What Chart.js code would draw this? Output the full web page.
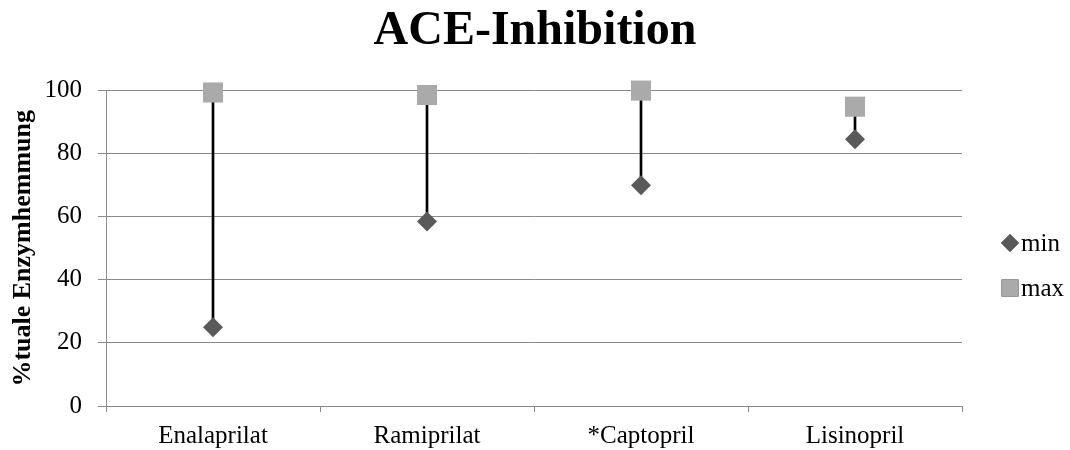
<!DOCTYPE html>
<html>
<head>
<meta charset="utf-8">
<script src="https://cdn.jsdelivr.net/npm/chart.js@4/dist/chart.umd.min.js"></script>
<style>
  html, body { margin: 0; padding: 0; background: #ffffff; }
  #wrap { width: 1070px; height: 450px; }
</style>
</head>
<body>
<div id="wrap"><canvas id="c" width="1070" height="450"></canvas></div>
<script>
// Inhibitors and their range of enzyme inhibition (%)
const categories = ['Enalaprilat', 'Ramiprilat', '*Captopril', 'Lisinopril'];
const minValues = [25, 58.5, 70, 84.6];
const maxValues = [99.4, 98.6, 100, 94.9];
const yTicks = [0, 20, 40, 60, 80, 100];

const SERIF = "'Liberation Serif', 'Times New Roman', serif";
const GRID = '#8a8a8a';
const MIN_COLOR = '#5a5a5a';
const MAX_COLOR = '#aaaaaa';

// Legend drawn in the reserved strip to the right of the plot
const sideLegend = {
  id: 'sideLegend',
  afterDraw(chart) {
    const ctx = chart.ctx;
    const rows = chart.data.datasets.filter(d => d.type === 'line');
    ctx.save();
    rows.forEach((ds, i) => {
      const cy = 243 + i * 45;
      Chart.helpers.drawPoint(ctx, {
        pointStyle: ds.pointStyle,
        radius: ds.pointStyle === 'rect' ? 12 : 9,
        borderWidth: 0,
        rotation: 0
      }, 1010, cy);
      ctx.fillStyle = ds.backgroundColor;
      ctx.fill();
      ctx.fillStyle = '#000000';
      ctx.font = '25px ' + SERIF;
      ctx.textAlign = 'left';
      ctx.textBaseline = 'alphabetic';
      ctx.fillText(ds.label, 1021, cy + 8);
    });
    ctx.restore();
  }
};

new Chart(document.getElementById('c'), {
  type: 'bar',
  data: {
    labels: categories,
    datasets: [
      {
        type: 'bar',
        label: 'range',
        data: categories.map((_, i) => [minValues[i], maxValues[i]]),
        backgroundColor: '#000000',
        borderWidth: 0,
        barThickness: 2,
        order: 3
      },
      {
        type: 'line',
        label: 'min',
        data: minValues,
        showLine: false,
        pointStyle: 'rectRot',
        pointRadius: 10,
        pointHoverRadius: 10,
        pointBorderWidth: 0,
        backgroundColor: MIN_COLOR,
        borderColor: MIN_COLOR,
        clip: false,
        order: 1
      },
      {
        type: 'line',
        label: 'max',
        data: maxValues,
        showLine: false,
        pointStyle: 'rect',
        pointRadius: 14.2,
        pointHoverRadius: 14.2,
        pointBorderWidth: 0,
        backgroundColor: MAX_COLOR,
        borderColor: MAX_COLOR,
        clip: false,
        order: 2
      }
    ]
  },
  options: {
    responsive: false,
    animation: false,
    layout: { padding: { left: 0, right: 0, top: 0, bottom: 0 } },
    plugins: {
      legend: { display: false },
      tooltip: { enabled: false },
      title: {
        display: true,
        text: 'ACE-Inhibition',
        color: '#000000',
        font: { family: SERIF, size: 48, weight: 'bold' },
        padding: { top: 3, bottom: 30 }
      }
    },
    scales: {
      x: {
        offset: true,
        grid: {
          offset: true,
          drawOnChartArea: false,
          drawTicks: true,
          tickLength: 6,
          color: GRID
        },
        border: { color: GRID, width: 1 },
        ticks: {
          color: '#000000',
          font: { family: SERIF, size: 25 },
          padding: 9,
          maxRotation: 0
        },
        afterFit(scale) { scale.height = 44; }
      },
      y: {
        min: 0,
        max: 100,
        afterBuildTicks(scale) { scale.ticks = yTicks.map(v => ({ value: v })); },
        grid: { color: GRID, tickLength: 8, drawTicks: true },
        border: { color: GRID, width: 1 },
        ticks: {
          color: '#000000',
          font: { family: SERIF, size: 25 },
          padding: 16
        },
        title: {
          display: true,
          text: '%tuale Enzymhemmung',
          color: '#000000',
          font: { family: SERIF, size: 26, weight: 'bold' },
          padding: { top: 8, bottom: 0 }
        },
        afterFit(scale) { scale.width = 106; }
      },
      // empty strip on the right that holds the legend
      legendStrip: {
        type: 'linear',
        position: 'right',
        display: true,
        grid: { display: false, drawTicks: false },
        border: { display: false },
        ticks: { display: false },
        afterFit(scale) { scale.width = 108; }
      }
    }
  },
  plugins: [sideLegend]
});
</script>
</body>
</html>
